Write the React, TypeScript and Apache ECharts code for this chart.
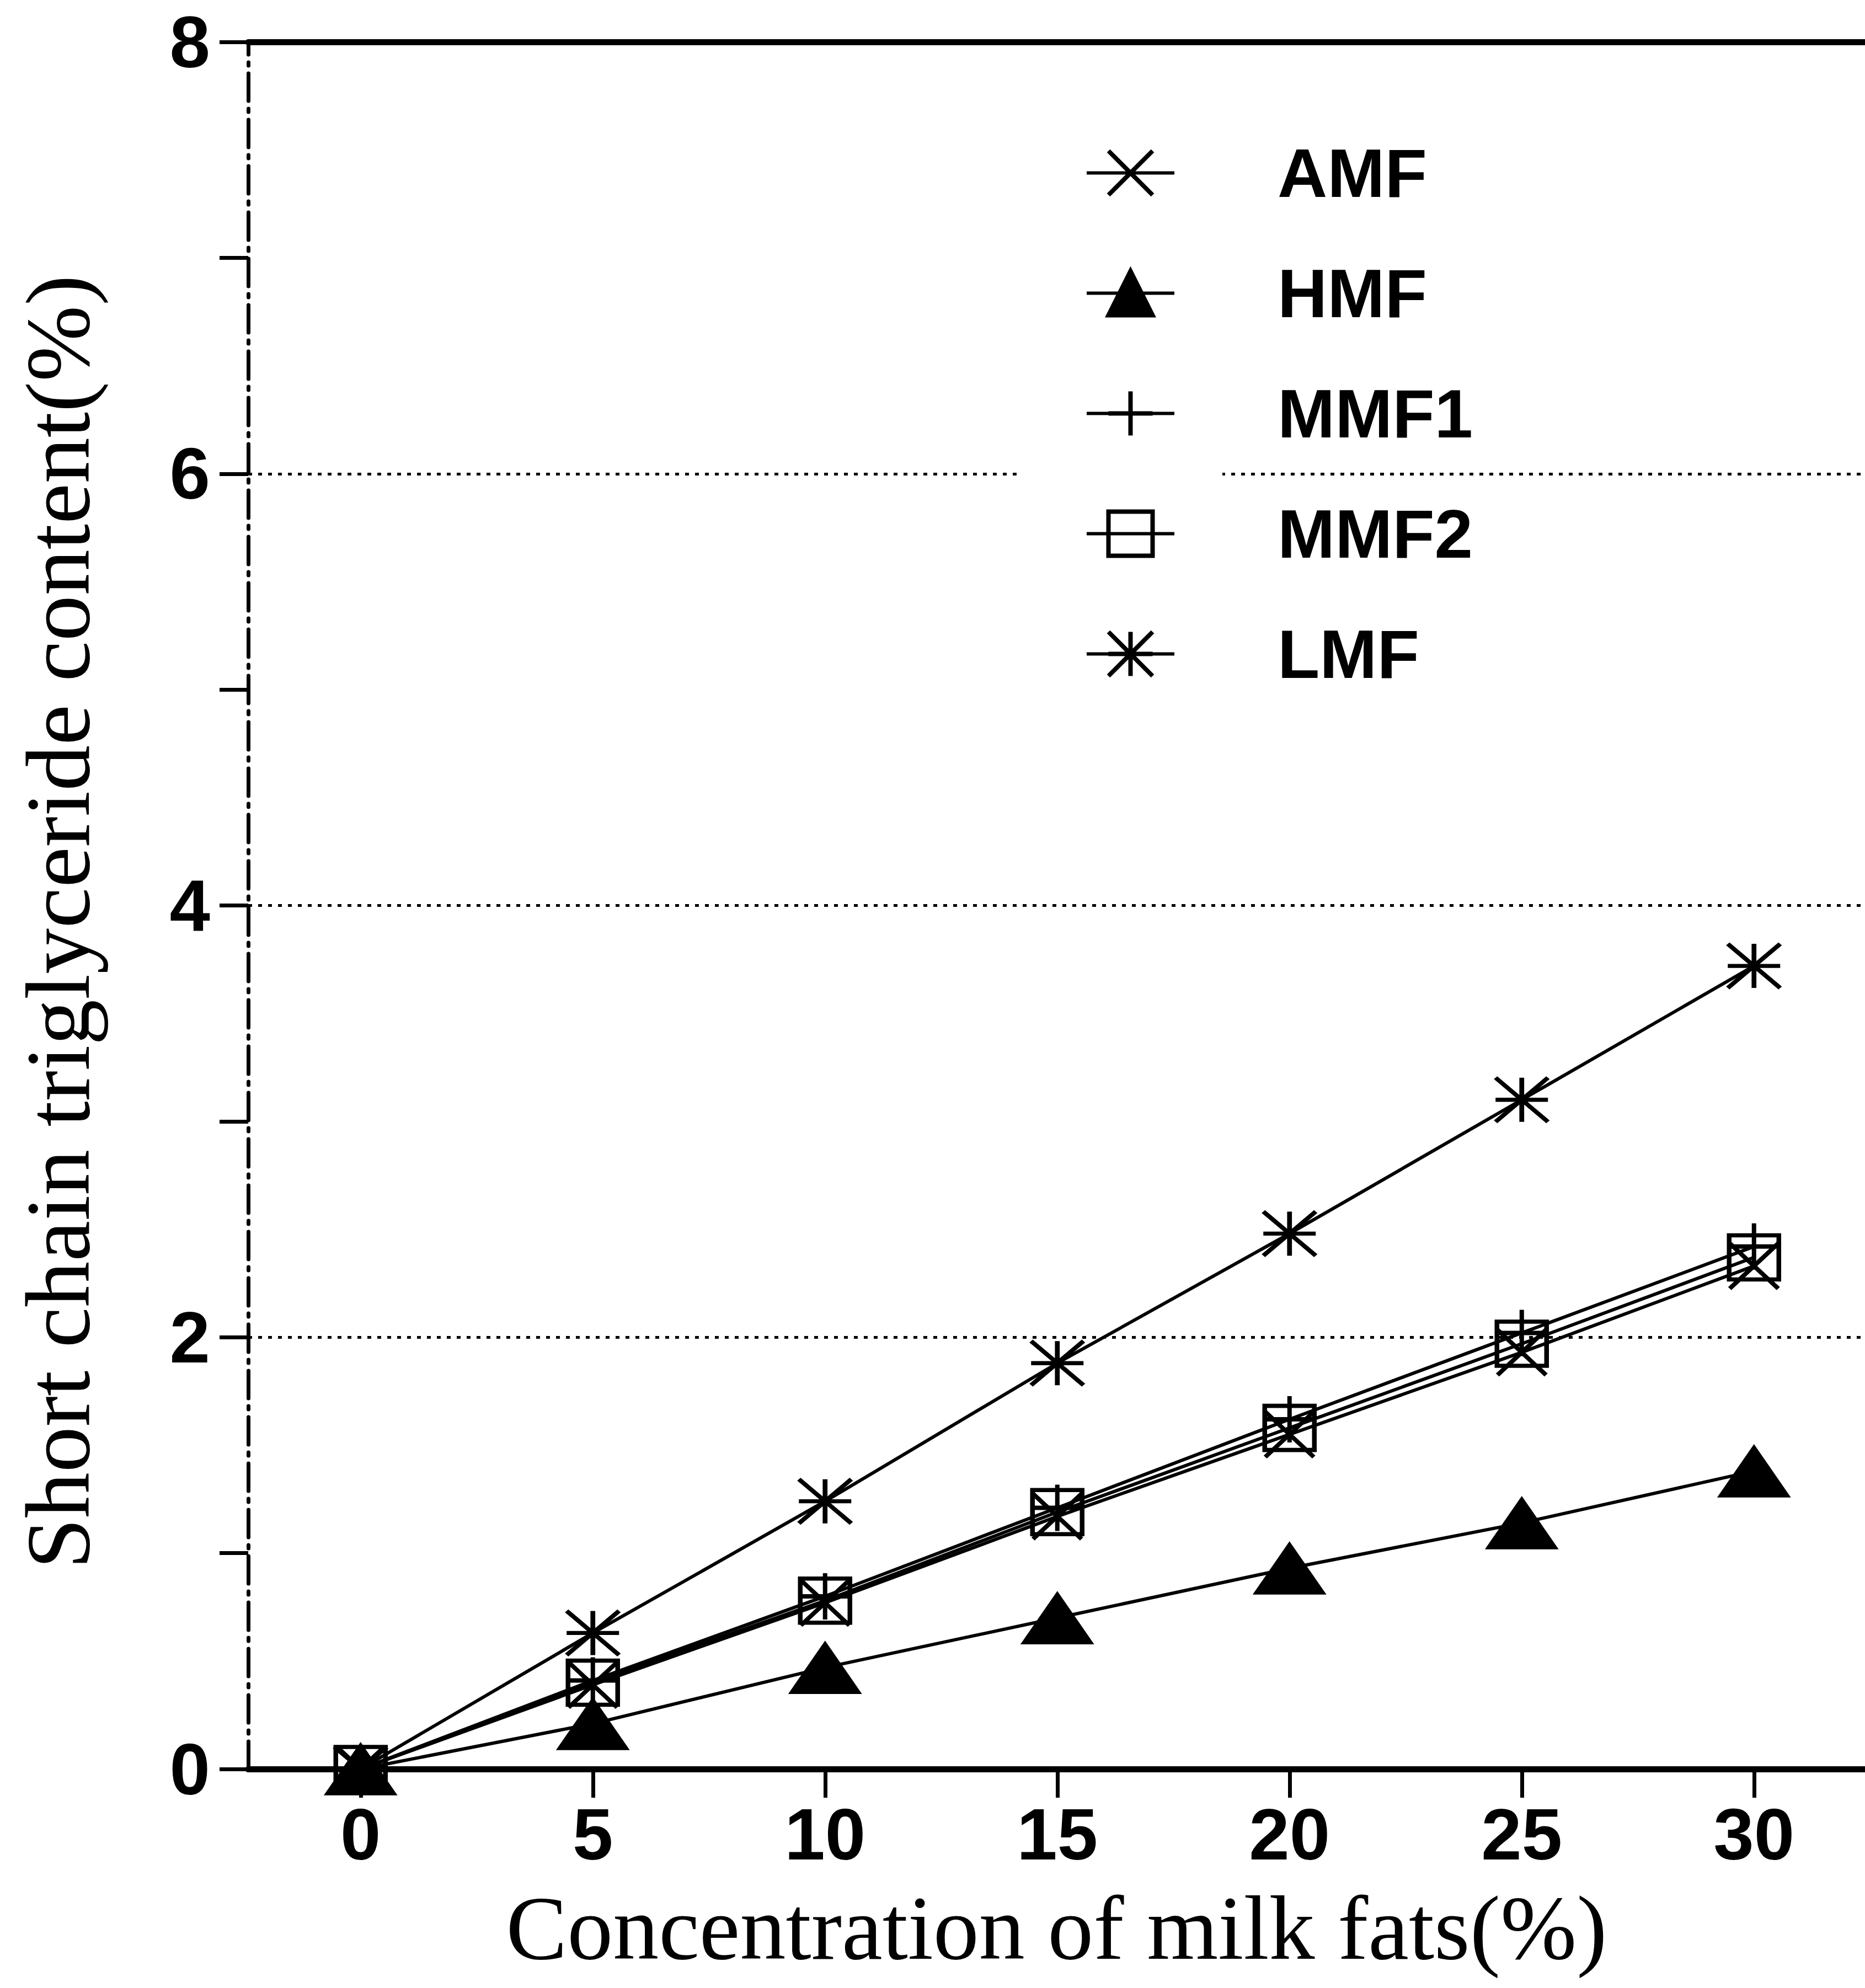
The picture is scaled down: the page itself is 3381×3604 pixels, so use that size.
import React, { useEffect, useRef } from "react";
import * as echarts from "echarts";

const concentrations = [0, 5, 10, 15, 20, 25, 30];
const seriesNames = ["AMF", "HMF", "MMF1", "MMF2", "LMF"];
const amfValues = [0, 0.39, 0.77, 1.17, 1.55, 1.93, 2.33];
const hmfValues = [0, 0.21, 0.47, 0.7, 0.93, 1.14, 1.38];
const mmf1Values = [0, 0.41, 0.8, 1.21, 1.62, 2.02, 2.42];
const mmf2Values = [0, 0.4, 0.78, 1.19, 1.58, 1.97, 2.37];
const lmfValues = [0, 0.63, 1.24, 1.88, 2.48, 3.1, 3.72];
const xTickValues = [0, 5, 10, 15, 20, 25, 30];

const xTitle = "Concentration of milk fats(%)";
const yTitle = "Short chain triglyceride content(%)";

const SANS = "Liberation Sans, Arial, sans-serif";
const SERIF = "Liberation Serif, Times New Roman, serif";

function pairs(vals: number[]) {
  return concentrations.map((c, i) => [c, vals[i]]);
}

export default function App() {
  const ref = useRef<HTMLDivElement>(null);
  useEffect(() => {
    if (!ref.current) return;
    const chart = echarts.init(ref.current, null, { renderer: "svg" });
    const lineStyle = { color: "#000", width: 6, type: "solid" as const };
    const baseSeries = {
      type: "line" as const,
      xAxisIndex: 0,
      yAxisIndex: 0,
      lineStyle,
      emphasis: { disabled: true },
      silent: true,
      z: 3,
    };
    const strokeStyle = { color: "#000", borderColor: "#000", borderWidth: 8 };
    const valuesList = [amfValues, hmfValues, mmf1Values, mmf2Values, lmfValues];
    const symbols = [
      "path://M0,0L10,10M10,0L0,10",
      "triangle",
      "path://M5,0L5,10M0,5L10,5",
      "rect",
      "path://M0,0L10,10M10,0L0,10M5,0L5,10M0,5L10,5",
    ];
    const sizes: any[] = [
      [88, 82],
      [130, 94],
      [84, 84],
      [90, 80],
      [95, 80],
    ];
    const itemStyles: any[] = [
      strokeStyle,
      { color: "#000", borderColor: "#000", borderWidth: 2 },
      strokeStyle,
      { color: "rgba(255,255,255,0)", borderColor: "#000", borderWidth: 8 },
      strokeStyle,
    ];
    const series = seriesNames.map((name, i) => ({
      ...baseSeries,
      name,
      data: pairs(valuesList[i]),
      symbol: symbols[i],
      symbolSize: sizes[i],
      itemStyle: itemStyles[i],
    }));

    chart.setOption({
      animation: false,
      backgroundColor: "#fff",
      grid: { left: 450, right: 0, top: 76, bottom: 397, containLabel: false },
      legend: {
        orient: "vertical",
        left: 1962,
        top: 246,
        itemWidth: 159,
        itemHeight: 100,
        itemGap: 93,
        data: seriesNames,
        selectedMode: false,
        itemStyle: { borderWidth: 8, borderColor: "#000" },
        lineStyle: { width: 6, color: "#000" },
        textStyle: {
          fontFamily: SANS,
          fontSize: 125,
          fontWeight: "bold",
          color: "#000",
          padding: [0, 0, 0, 182],
        },
      },
      graphic: [
        {
          type: "rect",
          z: 1,
          shape: { x: 1850, y: 838, width: 366, height: 24 },
          style: { fill: "#fff" },
          silent: true,
        },
      ],
      xAxis: [
        {
          type: "value",
          position: "bottom",
          min: -2.42,
          max: 32.39,
          name: xTitle,
          nameLocation: "middle",
          nameGap: 205,
          nameTextStyle: { fontFamily: SERIF, fontSize: 166, color: "#000" },
          axisLine: { show: true, onZero: false, lineStyle: { color: "#000", width: 11 } },
          axisTick: {
            show: true,
            inside: false,
            length: 52,
            customValues: xTickValues,
            lineStyle: { color: "#000", width: 7 },
          },
          axisLabel: {
            show: true,
            customValues: xTickValues,
            margin: 52,
            fontFamily: SANS,
            fontSize: 132,
            fontWeight: "bold",
            color: "#000",
          },
          splitLine: { show: false },
        },
        {
          type: "value",
          position: "top",
          min: -2.42,
          max: 32.39,
          axisLine: { show: true, onZero: false, lineStyle: { color: "#000", width: 11 } },
          axisTick: { show: false },
          axisLabel: { show: false },
          splitLine: { show: false },
        },
      ],
      yAxis: {
        type: "value",
        position: "left",
        min: 0,
        max: 8,
        interval: 2,
        name: yTitle,
        nameLocation: "middle",
        nameGap: 262,
        nameTextStyle: {
          fontFamily: SERIF,
          fontSize: 166,
          color: "#000",
          padding: [0, 60, 0, 0],
        },
        axisLine: {
          show: true,
          onZero: false,
          lineStyle: { color: "#000", width: 7, type: [50, 14, 6, 14] },
        },
        axisTick: { show: true, inside: false, length: 52, lineStyle: { color: "#000", width: 7 } },
        minorTick: { show: true, splitNumber: 2, length: 52, lineStyle: { color: "#000", width: 7 } },
        axisLabel: {
          show: true,
          margin: 69,
          fontFamily: SANS,
          fontSize: 132,
          fontWeight: "bold",
          color: "#000",
        },
        splitLine: {
          show: true,
          lineStyle: { color: "#000", width: 5, type: [7, 11] },
        },
      },
      series,
    });
    return () => chart.dispose();
  }, []);
  return (
    <div
      ref={ref}
      style={{ position: "absolute", left: 0, top: 0, width: 3381, height: 3604, background: "#fff" }}
    />
  );
}
